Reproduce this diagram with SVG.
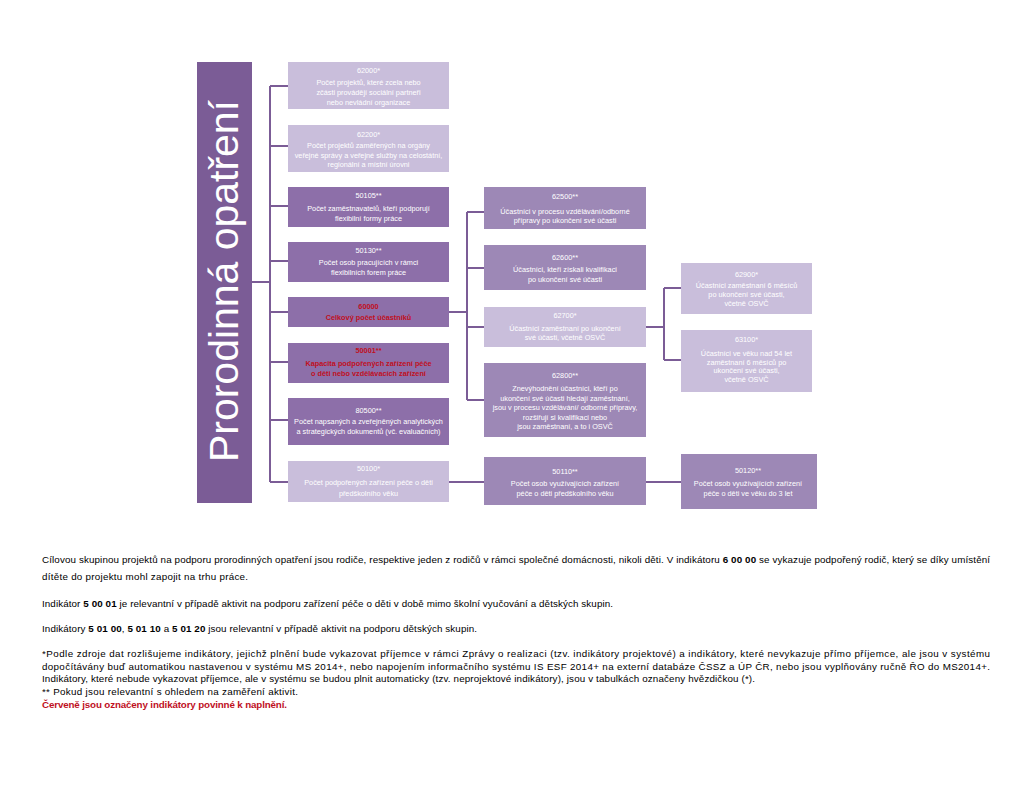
<svg xmlns="http://www.w3.org/2000/svg" width="1024" height="791" viewBox="0 0 1024 791">
<style>
.bx{font-family:"Liberation Sans",Arial,sans-serif;font-size:7.3px;fill:#ffffff;text-anchor:middle}
.red{fill:#c0101e;font-weight:bold}
.dk{fill:#8d6fa9}
.md{fill:#9d88b6}
.lt{fill:#c9bedb}
.cn{fill:none;stroke:#7b5c96;stroke-width:2}
.ft{font-family:"Liberation Sans",Arial,sans-serif;font-size:9.8px;fill:#000000}
.b{font-weight:bold}
</style>
<rect width="1024" height="791" fill="#ffffff"/>
<g id="title">
<rect x="197" y="62" width="55" height="441" fill="#7b5c96"/>
<text transform="translate(238,281) rotate(-90)" font-family="'Liberation Sans',Arial,sans-serif" font-size="41" fill="#ffffff" text-anchor="middle" textLength="362">Prorodinná opatření</text>
</g>
<g id="connectors">
<path class="cn" d="M252 282H270M270 86V482M270 86H288M270 146H288M270 206H288M270 261H288M270 312H288M270 362H288M270 420H288M270 482H288"/>
<path class="cn" d="M449 312H467M467 212V400M467 212H484M467 268H484M467 327H484M467 400H484"/>
<path class="cn" d="M449 482H484M646 482H681"/>
<path class="cn" d="M646 327H664M664 288V360M664 288H681M664 360H681"/>
</g>
<g id="n62000"><rect class="lt" x="288" y="62" width="161" height="47"/>
<text class="bx" x="368.5" y="72.5">62000*</text><text class="bx" x="368.5" y="85">Počet projektů, které zcela nebo</text><text class="bx" x="368.5" y="95">zčásti provádějí sociální partneři</text><text class="bx" x="368.5" y="105">nebo nevládní organizace</text></g>
<g id="n62200"><rect class="lt" x="288" y="125" width="161" height="47"/>
<text class="bx" x="368.5" y="137">62200*</text><text class="bx" x="368.5" y="148">Počet projektů zaměřených na orgány</text><text class="bx" x="368.5" y="157.5">veřejné správy a veřejné služby na celostátní,</text><text class="bx" x="368.5" y="167">regionální a místní úrovni</text></g>
<g id="n50105"><rect class="dk" x="288" y="187" width="161" height="40"/>
<text class="bx" x="368.5" y="197.5">50105**</text><text class="bx" x="368.5" y="211">Počet zaměstnavatelů, kteří podporují</text><text class="bx" x="368.5" y="221">flexibilní formy práce</text></g>
<g id="n50130"><rect class="dk" x="288" y="242" width="161" height="40"/>
<text class="bx" x="368.5" y="252.5">50130**</text><text class="bx" x="368.5" y="264.5">Počet osob pracujících v rámci</text><text class="bx" x="368.5" y="274.5">flexibilních forem práce</text></g>
<g id="n60000"><rect class="dk" x="288" y="297" width="161" height="30"/>
<text class="bx red" x="368.5" y="308.5">60000</text><text class="bx red" x="368.5" y="320">Celkový počet účastníků</text></g>
<g id="n50001"><rect class="dk" x="288" y="343" width="161" height="40"/>
<text class="bx red" x="368.5" y="352.5">50001**</text><text class="bx red" x="368.5" y="366">Kapacita podpořených zařízení péče</text><text class="bx red" x="368.5" y="375.5">o děti nebo vzdělávacích zařízení</text></g>
<g id="n80500"><rect class="dk" x="288" y="398" width="161" height="47"/>
<text class="bx" x="368.5" y="413">80500**</text><text class="bx" x="368.5" y="424">Počet napsaných a zveřejněných analytických</text><text class="bx" x="368.5" y="433.5">a strategických dokumentů (vč. evaluačních)</text></g>
<g id="n50100"><rect class="lt" x="288" y="461" width="161" height="41"/>
<text class="bx" x="368.5" y="471">50100*</text><text class="bx" x="368.5" y="485">Počet podpořených zařízení péče o děti</text><text class="bx" x="368.5" y="495.5">předškolního věku</text></g>
<g id="n62500"><rect class="md" x="484" y="187" width="162" height="42"/>
<text class="bx" x="565" y="199">62500**</text><text class="bx" x="565" y="213.5">Účastníci v procesu vzdělávání/odborné</text><text class="bx" x="565" y="222.5">přípravy po ukončení své účasti</text></g>
<g id="n62600"><rect class="md" x="484" y="245" width="162" height="45"/>
<text class="bx" x="565" y="259.5">62600**</text><text class="bx" x="565" y="271.5">Účastníci, kteří získali kvalifikaci</text><text class="bx" x="565" y="281.5">po ukončení své účasti</text></g>
<g id="n62700"><rect class="lt" x="484" y="307" width="162" height="40"/>
<text class="bx" x="565" y="317.5">62700*</text><text class="bx" x="565" y="330.5">Účastníci zaměstnaní po ukončení</text><text class="bx" x="565" y="340">své účasti, včetně OSVČ</text></g>
<g id="n62800"><rect class="md" x="484" y="363" width="162" height="74"/>
<text class="bx" x="565" y="377.5">62800**</text><text class="bx" x="565" y="390.5">Znevýhodnění účastníci, kteří po</text><text class="bx" x="565" y="400.5">ukončení své účasti hledají zaměstnání,</text><text class="bx" x="565" y="410">jsou v procesu vzdělávání/ odborné přípravy,</text><text class="bx" x="565" y="419.5">rozšiřují si kvalifikaci nebo</text><text class="bx" x="565" y="429">jsou zaměstnaní, a to i OSVČ</text></g>
<g id="n50110"><rect class="md" x="484" y="457" width="162" height="48"/>
<text class="bx" x="565" y="473.5">50110**</text><text class="bx" x="565" y="486">Počet osob využívajících zařízení</text><text class="bx" x="565" y="495.5">péče o děti předškolního věku</text></g>
<g id="n62900"><rect class="lt" x="681" y="263" width="131" height="51"/>
<text class="bx" x="746.5" y="277">62900*</text><text class="bx" x="746.5" y="287.5">Účastníci zaměstnaní 6 měsíců</text><text class="bx" x="746.5" y="297">po ukončení své účasti,</text><text class="bx" x="746.5" y="306">včetně  OSVČ</text></g>
<g id="n63100"><rect class="lt" x="681" y="330" width="131" height="62"/>
<text class="bx" x="746.5" y="341.5">63100*</text><text class="bx" x="746.5" y="355.5">Účastníci ve věku nad 54 let</text><text class="bx" x="746.5" y="364.5">zaměstnaní 6 měsíců po</text><text class="bx" x="746.5" y="373">ukončení své účasti,</text><text class="bx" x="746.5" y="382">včetně  OSVČ</text></g>
<g id="n50120"><rect class="md" x="681" y="454" width="136" height="55"/>
<text class="bx" x="748" y="473">50120**</text><text class="bx" x="748" y="486">Počet osob využívajících zařízení</text><text class="bx" x="748" y="495.5">péče o děti ve věku do 3 let</text></g>
<g id="notes">
<text class="ft" x="42" y="563" textLength="948">Cílovou skupinou projektů na podporu prorodinných opatření jsou rodiče, respektive jeden z rodičů v rámci společné domácnosti, nikoli děti. V indikátoru <tspan class="b">6 00 00</tspan> se vykazuje podpořený rodič, který se díky umístění</text>
<text class="ft" x="42" y="580" textLength="206">dítěte do projektu mohl zapojit na trhu práce.</text>
<text class="ft" x="42" y="607" textLength="571">Indikátor <tspan class="b">5 00 01</tspan> je relevantní v případě aktivit na podporu zařízení péče o děti v době mimo školní vyučování a dětských skupin.</text>
<text class="ft" x="42" y="632" textLength="435">Indikátory <tspan class="b">5 01 00</tspan>, <tspan class="b">5 01 10</tspan> a <tspan class="b">5 01 20</tspan> jsou relevantní v případě aktivit na podporu dětských skupin.</text>
<text class="ft" x="42" y="657" textLength="948">*Podle zdroje dat rozlišujeme indikátory, jejichž plnění bude vykazovat příjemce v rámci Zprávy o realizaci (tzv. indikátory projektové) a indikátory, které nevykazuje přímo příjemce, ale jsou v systému</text>
<text class="ft" x="42" y="670" textLength="948">dopočítávány buď automatikou nastavenou v systému MS 2014+, nebo napojením informačního systému IS ESF 2014+ na externí databáze ČSSZ a ÚP ČR, nebo jsou vyplňovány ručně ŘO do MS2014+.</text>
<text class="ft" x="42" y="682" textLength="713">Indikátory, které nebude vykazovat příjemce, ale v systému se budou plnit automaticky (tzv. neprojektové indikátory), jsou v tabulkách označeny hvězdičkou (*).</text>
<text class="ft" x="42" y="695" textLength="256">** Pokud jsou relevantní s ohledem na zaměření aktivit.</text>
<text class="ft b" x="42" y="708" textLength="245" style="fill:#c0101e">Červeně jsou označeny indikátory povinné k naplnění.</text>
</g>
</svg>
